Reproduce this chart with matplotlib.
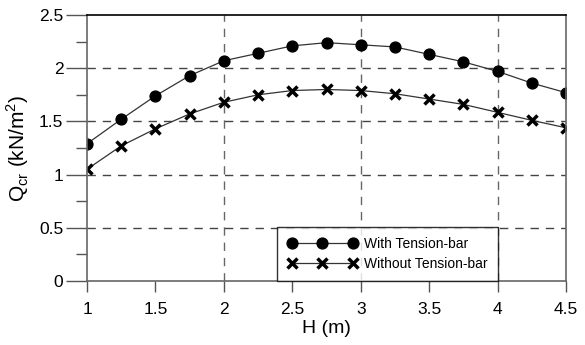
import matplotlib.pyplot as plt
from matplotlib.ticker import MultipleLocator, FormatStrFormatter

plt.rcParams['font.family'] = ['Liberation Sans', 'DejaVu Sans']

# Chiều cao H (m)
H = [1.0, 1.25, 1.5, 1.75, 2.0, 2.25, 2.5, 2.75, 3.0, 3.25, 3.5, 3.75, 4.0, 4.25, 4.5]

# Tải trọng tới hạn Qcr (kN/m2)
q_with_bar = [1.29, 1.52, 1.74, 1.93, 2.07, 2.14, 2.21, 2.24, 2.22, 2.20, 2.13, 2.06, 1.97, 1.86, 1.77]
q_without_bar = [1.05, 1.27, 1.43, 1.57, 1.68, 1.75, 1.79, 1.80, 1.79, 1.76, 1.71, 1.66, 1.585, 1.51, 1.44]

fig = plt.figure(figsize=(5.85, 3.45), dpi=100)
ax = fig.add_axes([87 / 585, 1 - 281 / 345, (566 - 87) / 585, (281 - 15) / 345])

ax.plot(H, q_with_bar, color='#333333', lw=0.9, marker='o', markersize=7.8,
        markerfacecolor='black', markeredgecolor='black', label='With Tension-bar')
ax.plot(H, q_without_bar, color='#333333', lw=0.9, marker='x', markersize=6.5,
        markeredgewidth=2.5, markeredgecolor='black', label='Without Tension-bar')

ax.set_xlim(1, 4.5)
ax.set_ylim(0, 2.5)

# trục x: nhãn mỗi 0.5, vạch dài ở số nguyên
ax.xaxis.set_major_locator(MultipleLocator(0.5))
ax.xaxis.set_minor_locator(MultipleLocator(1))
ax.xaxis.set_major_formatter(FormatStrFormatter('%g'))
ax.tick_params(axis='x', which='major', direction='out', length=8, width=1,
               color='#555555', labelsize=12.5, pad=7)
ax.tick_params(axis='x', which='minor', direction='out', length=17, width=1,
               color='#555555')

# trục y
ax.yaxis.set_major_locator(MultipleLocator(0.5))
ax.yaxis.set_minor_locator(MultipleLocator(0.25))
ax.yaxis.set_major_formatter(FormatStrFormatter('%g'))
ax.tick_params(axis='y', which='major', direction='out', length=15, width=1,
               color='#555555', labelsize=12.5, pad=2)
ax.tick_params(axis='y', which='minor', direction='out', length=8, width=1,
               color='#555555')

# lưới nét đứt
for x in [2, 3, 4]:
    ax.axvline(x, color='#666666', ls=(0, (6, 5)), lw=1, zorder=0)
for y in [0.5, 1.0, 1.5, 2.0]:
    ax.axhline(y, color='#444444', ls=(0, (6, 5)), lw=1, zorder=0)

ax.spines['top'].set_color('black')
for s in ['left', 'bottom', 'right']:
    ax.spines[s].set_color('#666666')
for s in ax.spines.values():
    s.set_linewidth(1.2)

ax.set_xlabel('H (m)', fontsize=14, labelpad=2)
ax.set_ylabel(r'Q$_{\mathregular{cr}}$ (kN/m$^{\mathregular{2}}$)', fontsize=15, labelpad=6)

leg = ax.legend(loc='lower left', bbox_to_anchor=(0.397, 0.0), numpoints=3,
                fontsize=10, frameon=True, fancybox=False, borderpad=0.75,
                handlelength=5.0, handletextpad=0.5, labelspacing=0.4,
                borderaxespad=0.0)
leg.get_frame().set_edgecolor('black')
leg.get_frame().set_linewidth(1)

fig.savefig('out.png', dpi=100)
